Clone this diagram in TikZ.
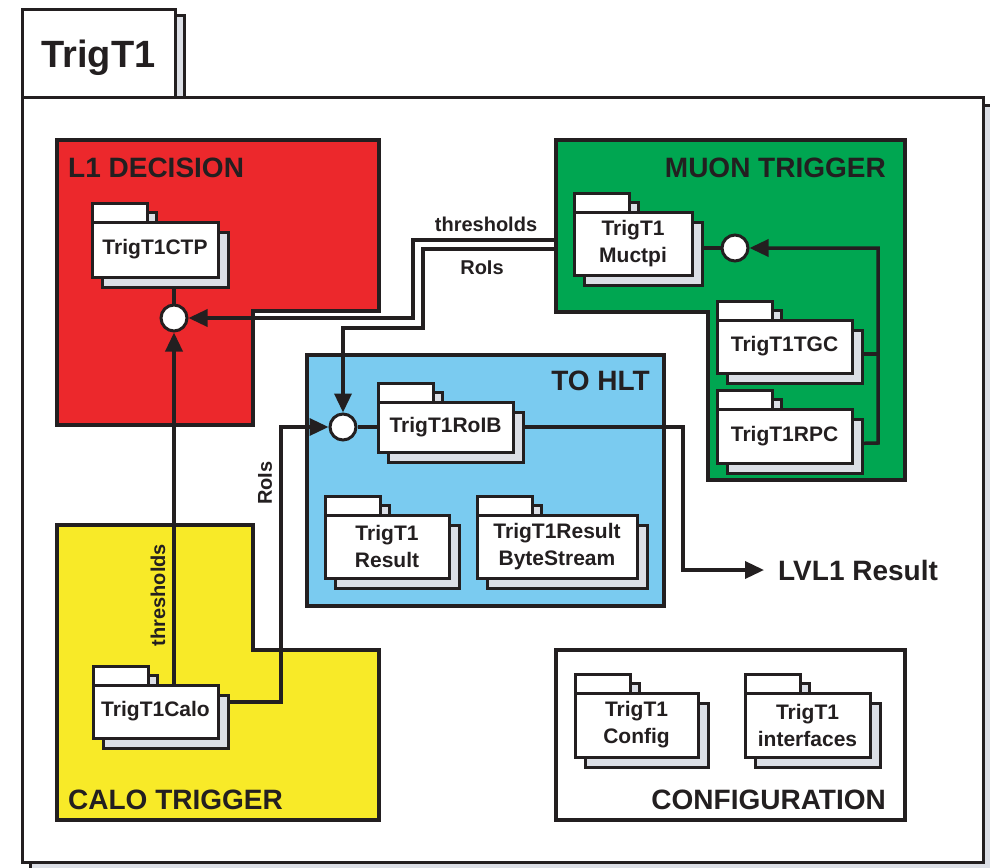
\documentclass[tikz,border=0pt]{standalone}
\usepackage{fontspec}
\setmainfont{Liberation Sans}
\usetikzlibrary{arrows.meta}
\definecolor{ink}{RGB}{35,31,32}
\definecolor{shade}{RGB}{220,223,230}
\definecolor{l1red}{RGB}{236,40,44}
\definecolor{muongreen}{RGB}{0,166,81}
\definecolor{hltblue}{RGB}{122,203,240}
\definecolor{caloyellow}{RGB}{248,234,40}
\pgfdeclarelayer{frame}
\pgfdeclarelayer{regions}
\pgfdeclarelayer{wires}
\pgfsetlayers{frame,regions,wires,main}
\tikzset{
  region/.style={draw=ink, line width=3.5pt, line join=miter},
  pkg/.style={draw=ink, fill=white, line width=3pt, font=\fontsize{21}{27}\selectfont\bfseries,
    text=ink, align=center, inner sep=0pt, outer sep=0pt, anchor=north west},
  pkgshade/.style={draw=ink, fill=shade, line width=3pt},
  port/.style={circle, draw=ink, fill=white, line width=3pt, minimum size=26pt, inner sep=0pt},
  wire/.style={draw=ink, line width=3.5pt, line join=miter},
  flow/.style={wire, -{Triangle[length=19pt,width=17pt]}},
  title/.style={font=\fontsize{28}{32}\selectfont\bfseries, text=ink, inner sep=0pt},
  lbl/.style={font=\fontsize{20}{24}\selectfont\bfseries, text=ink, inner sep=0pt},
}
\newcommand\pkgunit[6]{%
  \begin{scope}[shift={(#2,#3)}]
    \path[pkgshade] (10,10) rectangle (#4+10,#5+10);
    \path[pkgshade] (55,-10) rectangle (64,0);
    \path[pkgshade, fill=white] (0,-19) rectangle (55,0);
    \node[pkg, minimum width=#4pt, minimum height=#5pt] (#1) at (0,0) {#6};
  \end{scope}}
\begin{document}
\begin{tikzpicture}[x=1pt,y=-1pt]
\useasboundingbox (0,0) rectangle (990,867);
% outer package frame
\begin{pgfonlayer}{frame}
\path[pkgshade] (30,105) rectangle (992,870);
\path[pkgshade, fill=white] (22,97) rectangle (983,862);
\path[pkgshade] (175,16) rectangle (184,97);
\path[pkgshade, fill=white] (22,10) rectangle (175,97);
\end{pgfonlayer}
\node[font=\fontsize{38}{42}\selectfont\bfseries, text=ink, inner sep=0pt] (pkgtitle) at (98.5,58) {TrigT1};

% regions
\begin{pgfonlayer}{regions}
\path[region, fill=l1red] (57,140) -- (379,140) -- (379,311) -- (253,311) -- (253,425) -- (57,425) -- cycle;
\path[region, fill=muongreen] (556,140) -- (905,140) -- (905,480) -- (708,480) -- (708,312) -- (556,312) -- cycle;
\path[region, fill=hltblue] (307,355) rectangle (664,606);
\path[region, fill=caloyellow] (57,525) -- (253,525) -- (253,650) -- (379,650) -- (379,820) -- (57,820) -- cycle;
\path[region, fill=white] (556,650) rectangle (905,820);
\end{pgfonlayer}

\node[title, anchor=west] (l1t) at (68,168) {L1 DECISION};
\node[title, anchor=east] (muont) at (886,168) {MUON TRIGGER};
\node[title, anchor=east] (hltt) at (650,381) {TO HLT};
\node[title, anchor=west] (calot) at (68,800) {CALO TRIGGER};
\node[title, anchor=east] (conft) at (886,800) {CONFIGURATION};

% packages
\pkgunit{CTP}{92}{222}{126}{55}{TrigT1CTP}
\pkgunit{Muctpi}{574}{212}{118}{63}{TrigT1\\Muctpi}
\pkgunit{TGC}{717}{320}{135}{53}{TrigT1TGC}
\pkgunit{RPC}{717}{409}{135}{54}{TrigT1RPC}
\pkgunit{RoIB}{378}{402}{135}{50}{TrigT1RoIB}
\pkgunit{Result}{325}{515}{124}{63}{TrigT1\\Result}
\pkgunit{ByteStream}{477}{515}{160}{63}{TrigT1Result\\ByteStream}
\pkgunit{Calo}{93}{685}{125}{53}{TrigT1Calo}
\pkgunit{Config}{575}{693}{123}{64}{TrigT1\\Config}
\pkgunit{Interfaces}{745}{693}{125}{64}{TrigT1\\interfaces}

% ports
\node[port] (c1) at (174,318) {};
\node[port] (c2) at (343,427) {};
\node[port] (c3) at (735,248) {};

\node[title, anchor=west] (lvl) at (778,570) {LVL1 Result};
\coordinate (thrA) at (556,240);
\coordinate (roiA) at (556,249);

% labels
\node[lbl] (thrlbl) at (486,224) {thresholds};
\node[lbl] (roilbl) at (482,268) {RoIs};
\node[lbl, rotate=90] (roivert) at (265,483) {RoIs};
\node[lbl, rotate=90] (thrvert) at (158,595) {thresholds};

% connectors
\begin{pgfonlayer}{wires}
\draw[wire] (c1 |- CTP.south) -- (c1);
\draw[flow] (c1 |- Calo.north) -- (c1);
\draw[flow] (thrA) -- (413,240) -- (413,318) -- (c1);
\draw[flow] (roiA) -- (423,249) -- (423,328) -- (343,328) -- (c2);
\draw[flow] ([yshift=9.5pt]Calo.east) -- (281,702) |- (c2);
\draw[wire] (c2) -- (RoIB.west);
\draw[flow] (RoIB.east) -- (683,427) |- ([xshift=-14pt]lvl.west);
\draw[wire] (c3 -| Muctpi.east) -- (c3);
\draw[wire] ([yshift=-7.5pt]TGC.east) -- (878,354);
\draw[flow] ([yshift=-7.5pt]RPC.east) -- (878,443) |- (c3);
\end{pgfonlayer}
\end{tikzpicture}
\end{document}
